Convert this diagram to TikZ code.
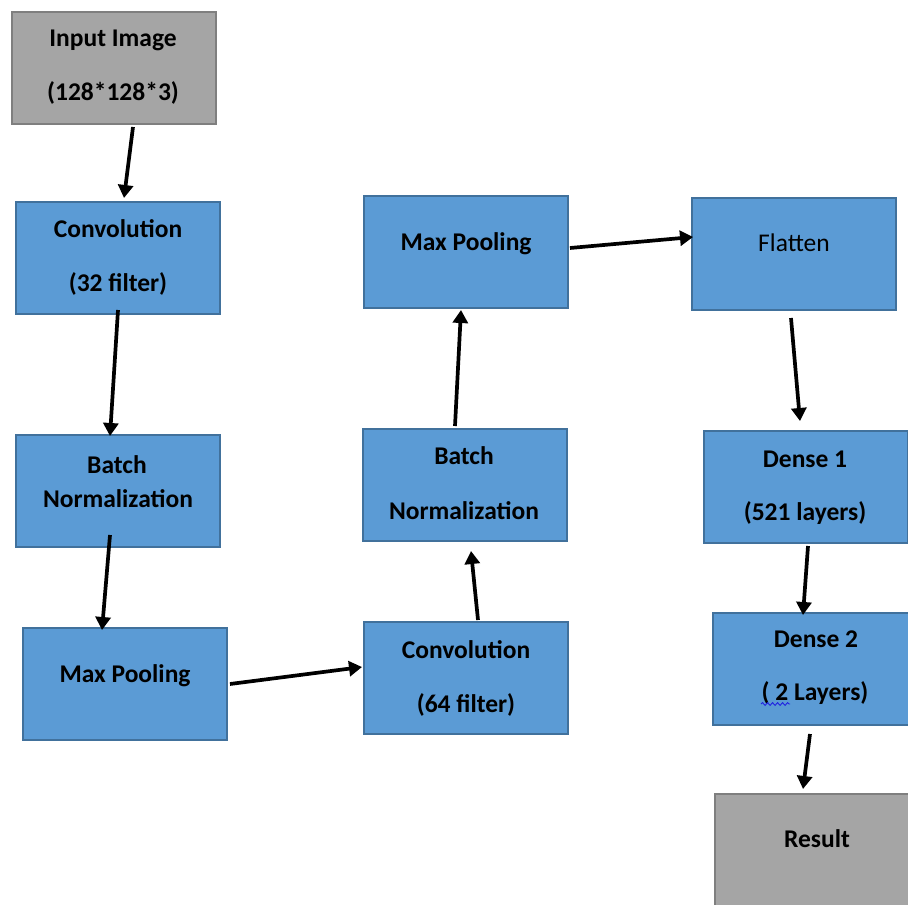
\documentclass[tikz,border=0pt]{standalone}
\usepackage{fontspec}
\setmainfont{Carlito}
\usetikzlibrary{arrows.meta,decorations.pathmorphing}
\definecolor{boxblue}{HTML}{5B9BD5}
\definecolor{boxedge}{HTML}{41719C}
\definecolor{boxgray}{HTML}{A5A5A5}
\definecolor{grayedge}{HTML}{7F7F7F}
\definecolor{spellblue}{HTML}{2020E0}
\begin{document}
\begin{tikzpicture}[x=1pt,y=-1pt,
  bluebox/.style={draw=boxedge,fill=boxblue,line width=2pt,minimum width=204pt,minimum height=112pt,inner sep=0pt},
  graybox/.style={draw=grayedge,fill=boxgray,line width=2pt,minimum width=204pt,minimum height=112pt,inner sep=0pt},
  lbl/.style={anchor=base,inner sep=0pt,font=\fontsize{25.5}{30}\selectfont\bfseries},
  plainlbl/.style={anchor=base,inner sep=0pt,font=\fontsize{25.5}{30}\selectfont},
  arr/.style={line width=3.7pt,-{Triangle[length=13pt,width=15pt]}}]
\useasboundingbox (0,0) rectangle (908,905);
\clip (0,0) rectangle (908,905);
\fill[white] (0,0) rectangle (908,905);
% boxes
\node[graybox] (in) at (113.5,67.5) {};
\node[bluebox] (c1) at (118,257.5) {};
\node[bluebox] (bn1) at (117.5,490.5) {};
\node[bluebox] (mp1) at (125,684) {};
\node[bluebox] (c2) at (465.5,678) {};
\node[bluebox] (bn2) at (464.5,485) {};
\node[bluebox] (mp2) at (465.5,251.5) {};
\node[bluebox] (fl) at (794,253.5) {};
\node[bluebox] (d1) at (805.5,486.5) {};
\node[bluebox] (d2) at (814.5,668.5) {};
\node[graybox] (res) at (816.5,849.5) {};
% labels
\node[lbl] (t1) at (113,46) {Input Image};
\node[lbl] (t2) at (113,100) {(128*128*3)};
\node[lbl] (t3) at (118,237) {Convolution};
\node[lbl] (t4) at (118,291) {(32 filter)};
\node[lbl] (t5) at (117,473) {Batch};
\node[lbl] (t6) at (118,507) {Normalization};
\node[lbl] (t7) at (125,682) {Max Pooling};
\node[lbl] (t8) at (466,658) {Convolution};
\node[lbl] (t9) at (466,712) {(64 filter)};
\node[lbl] (t10) at (464,464) {Batch};
\node[lbl] (t11) at (464,519) {Normalization};
\node[lbl] (t12) at (466,250) {Max Pooling};
\node[plainlbl] (t13) at (794,251) {Flatten};
\node[lbl] (t14) at (805,467) {Dense 1};
\node[lbl] (t15) at (805,520) {(521 layers)};
\node[lbl] (t16) at (816,647) {Dense 2};
\node[lbl] (t17) at (815,700) {( 2 Layers)};
\node[lbl] (t18) at (817,847) {Result};
% spell-check underline
\coordinate (w1) at (761,704);
\coordinate (w2) at (790,704);
\draw[spellblue,line width=0.9pt,decorate,decoration={snake,amplitude=1.4pt,segment length=5pt}] (w1) -- (w2);
% connector end points
\coordinate (a1s) at (133,127); \coordinate (a1e) at (124,198);
\coordinate (a2s) at (118,310); \coordinate (a2e) at (110,436);
\coordinate (a3s) at (110,535); \coordinate (a3e) at (102,630);
\coordinate (a4s) at (230,684); \coordinate (a4e) at (362,667);
\coordinate (a5s) at (478,620); \coordinate (a5e) at (471,551);
\coordinate (a6s) at (455,426); \coordinate (a6e) at (461,310);
\coordinate (a7s) at (570,248); \coordinate (a7e) at (693,237);
\coordinate (a8s) at (791,318); \coordinate (a8e) at (800,421);
\coordinate (a9s) at (808,546); \coordinate (a9e) at (803,615);
\coordinate (a10s) at (810,734); \coordinate (a10e) at (803,789);
\draw[arr] (a1s) -- (a1e);
\draw[arr] (a2s) -- (a2e);
\draw[arr] (a3s) -- (a3e);
\draw[arr] (a4s) -- (a4e);
\draw[arr] (a5s) -- (a5e);
\draw[arr] (a6s) -- (a6e);
\draw[arr] (a7s) -- (a7e);
\draw[arr] (a8s) -- (a8e);
\draw[arr] (a9s) -- (a9e);
\draw[arr] (a10s) -- (a10e);
\end{tikzpicture}
\end{document}
